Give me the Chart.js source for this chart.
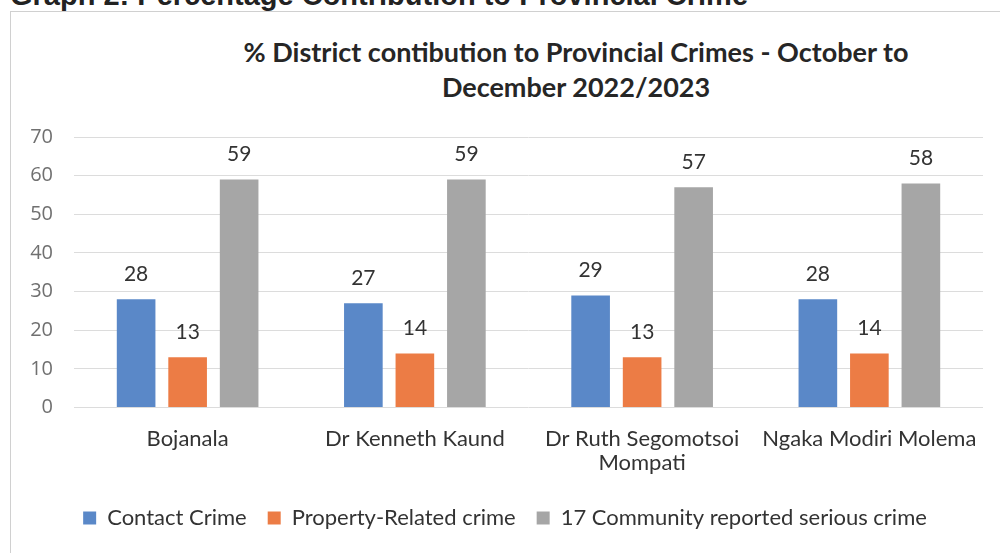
<!DOCTYPE html>
<html lang="en">
<head>
    <meta charset="UTF-8">
    <title>District contribution to Provincial Crimes</title>
    <script src="https://cdn.jsdelivr.net/npm/chart.js"></script>
    <style>
        body {
            margin: 0;
            background: #ffffff;
            width: 1000px;
            height: 553px;
            overflow: hidden;
            position: relative;
            font-family: Lato, "Noto Sans", sans-serif;
        }
        /* titre du rapport, coupé par le bord de la page dans le scan */
        .page-heading {
            position: absolute;
            left: 10px;
            top: -21px;
            font: bold 29px "Liberation Sans", Arial, sans-serif;
            color: #222;
            white-space: nowrap;
        }
        .frame {
            position: absolute;
            left: 10px;
            top: 11px;
            width: 1000px;
            height: 560px;
            border-left: 1px solid #d0d0d0;
            border-top: 1px solid #d0d0d0;
        }
        .chart-title {
            position: absolute;
            left: 226px;
            width: 700px;
            top: 34px;
            text-align: center;
            font: bold 27px Lato, sans-serif;
            line-height: 35px;
            color: #262626;
            white-space: nowrap;
        }
        .chart-box {
            position: absolute;
            left: 0;
            top: 0;
            width: 1000px;
            height: 553px;
        }
    </style>
</head>
<body>
    <div class="page-heading">Graph 2: Percentage Contribution to Provincial Crime</div>
    <div class="frame"></div>
    <div class="chart-title">% District contibution to Provincial Crimes - October to<br>December 2022/2023</div>
    <div class="chart-box"><canvas id="crimeChart"></canvas></div>

    <script>
        const districts = ["Bojanala", "Dr Kenneth Kaund", ["Dr Ruth Segomotsoi", "Mompati"], "Ngaka Modiri Molema"];
        const contactCrime = [28, 27, 29, 28];
        const propertyCrime = [13, 14, 13, 14];
        const communityCrime = [59, 59, 57, 58];
        const yTicks = [0, 10, 20, 30, 40, 50, 60, 70];

        // petit plugin pour écrire la valeur au-dessus de chaque barre
        const valueLabels = {
            id: "valueLabels",
            afterDatasetsDraw(chart) {
                const ctx = chart.ctx;
                ctx.save();
                ctx.font = "21px Lato, sans-serif";
                ctx.fillStyle = "#333333";
                ctx.textAlign = "center";
                ctx.textBaseline = "middle";
                chart.data.datasets.forEach((ds, i) => {
                    chart.getDatasetMeta(i).data.forEach((bar, j) => {
                        ctx.fillText(ds.data[j], bar.x, bar.y - 25);
                    });
                });
                ctx.restore();
            }
        };

        new Chart(document.getElementById("crimeChart"), {
            type: "bar",
            data: {
                labels: districts,
                datasets: [
                    { label: "Contact Crime", data: contactCrime, backgroundColor: "#5a88c8" },
                    { label: "Property-Related crime", data: propertyCrime, backgroundColor: "#ec7c45" },
                    { label: "17 Community reported serious crime", data: communityCrime, backgroundColor: "#a6a6a6" }
                ]
            },
            options: {
                responsive: true,
                maintainAspectRatio: false,
                animation: false,
                layout: { padding: { left: 27, right: 17, top: 137, bottom: 14 } },
                datasets: { bar: { categoryPercentage: 0.68, barPercentage: 0.75 } },
                plugins: {
                    legend: {
                        position: "bottom",
                        labels: {
                            color: "#333333",
                            font: { family: "Lato", size: 22 },
                            boxWidth: 13,
                            boxHeight: 13,
                            padding: 21
                        }
                    },
                    tooltip: { enabled: false }
                },
                scales: {
                    x: {
                        grid: { display: false },
                        border: { display: false },
                        ticks: { color: "#333333", font: { family: "Lato", size: 22, lineHeight: 1.1 }, padding: 11 }
                    },
                    y: {
                        min: 0,
                        max: 70,
                        afterBuildTicks: axis => { axis.ticks = yTicks.map(v => ({ value: v })); },
                        afterFit: axis => { axis.width = 47; },
                        grid: { color: "#dcdcdc", drawTicks: false },
                        border: { display: false },
                        ticks: { color: "#707070", font: { family: "Open Sans", size: 20 }, padding: 21 }
                    }
                }
            },
            plugins: [valueLabels]
        });
    </script>
</body>
</html>
